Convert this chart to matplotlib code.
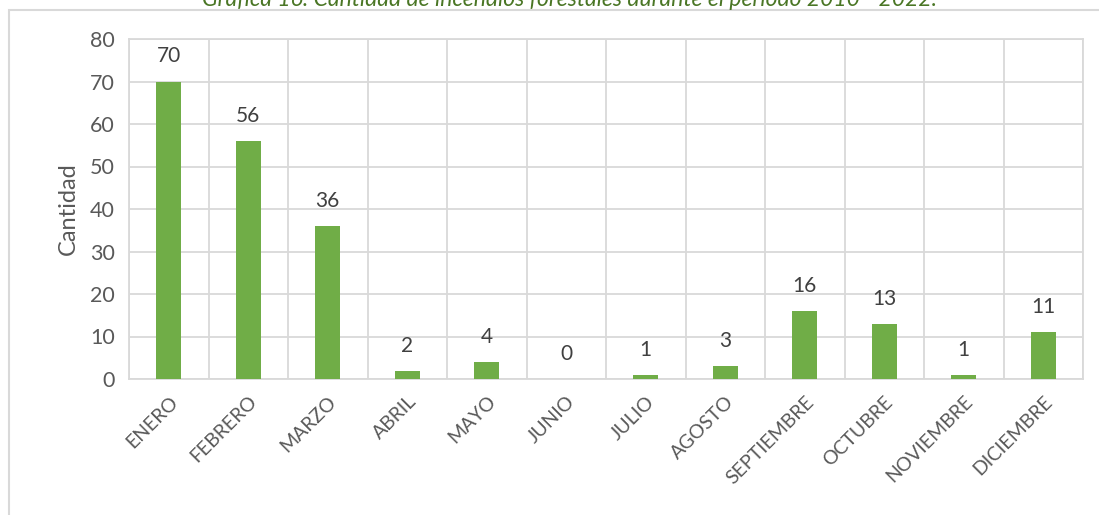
import numpy as np
import matplotlib.pyplot as plt
from matplotlib.patches import Rectangle

# Data
meses = ['ENERO', 'FEBRERO', 'MARZO', 'ABRIL', 'MAYO', 'JUNIO', 'JULIO',
         'AGOSTO', 'SEPTIEMBRE', 'OCTUBRE', 'NOVIEMBRE', 'DICIEMBRE']
cantidad = [70, 56, 36, 2, 4, 0, 1, 3, 16, 13, 1, 11]
yticks = [0, 10, 20, 30, 40, 50, 60, 70, 80]

titulo = 'Gráfica 16. Cantidad de incendios forestales durante el periodo 2010 - 2022.'

plt.rcParams['font.family'] = ['Lato', 'DejaVu Sans']
gris_txt = '#595959'
gris_lin = '#d9d9d9'
verde = '#70ad47'

fig = plt.figure(figsize=(10.99, 5.15), dpi=100)
W, H = 1099, 515

# outer chart frame (Excel style)
fig.patches.append(Rectangle((9 / W, -0.1), 1.2, 1 - 10 / H + 0.1, transform=fig.transFigure,
                             fill=False, edgecolor=gris_lin, lw=1.5))
# caption at the very top (partly cut off in the source image)
fig.text(569 / W, 1 - 6 / H, titulo, ha='center', va='baseline', fontsize=16.5,
         style='italic', color='#4a7625')

ax = fig.add_axes([129 / W, 1 - 379 / H, (1083 - 129) / W, (379 - 39) / H])
x = np.arange(len(meses))
bars = ax.bar(x, cantidad, width=0.31, color=verde, zorder=3)

for b, v in zip(bars, cantidad):
    ax.annotate(str(v), (b.get_x() + b.get_width() / 2, v), xytext=(0, 18),
                textcoords='offset points', ha='center', va='center',
                fontsize=15, color='#404040')

ax.set_xlim(-0.5, len(meses) - 0.5)
ax.set_ylim(0, 80)
ax.set_yticks(yticks)
ax.set_xticks(x)
ax.set_xticklabels(meses, rotation=45, ha='right', rotation_mode='anchor',
                   fontsize=14, color=gris_txt)
ax.set_xticks(np.arange(-0.5, len(meses), 1), minor=True)
ax.tick_params(axis='y', labelsize=15.5, labelcolor=gris_txt, length=0, pad=10)
ax.tick_params(axis='x', which='major', length=0, pad=10)
ax.tick_params(axis='x', which='minor', length=0)
ax.grid(axis='y', color=gris_lin, lw=1.3, zorder=0)
ax.grid(axis='x', which='minor', color=gris_lin, lw=1.3, zorder=0)
for s in ax.spines.values():
    s.set_color(gris_lin)
    s.set_linewidth(1.3)
ax.set_ylabel('Cantidad', fontsize=17, color=gris_txt, labelpad=8)

fig.savefig('out.png', dpi=100)
